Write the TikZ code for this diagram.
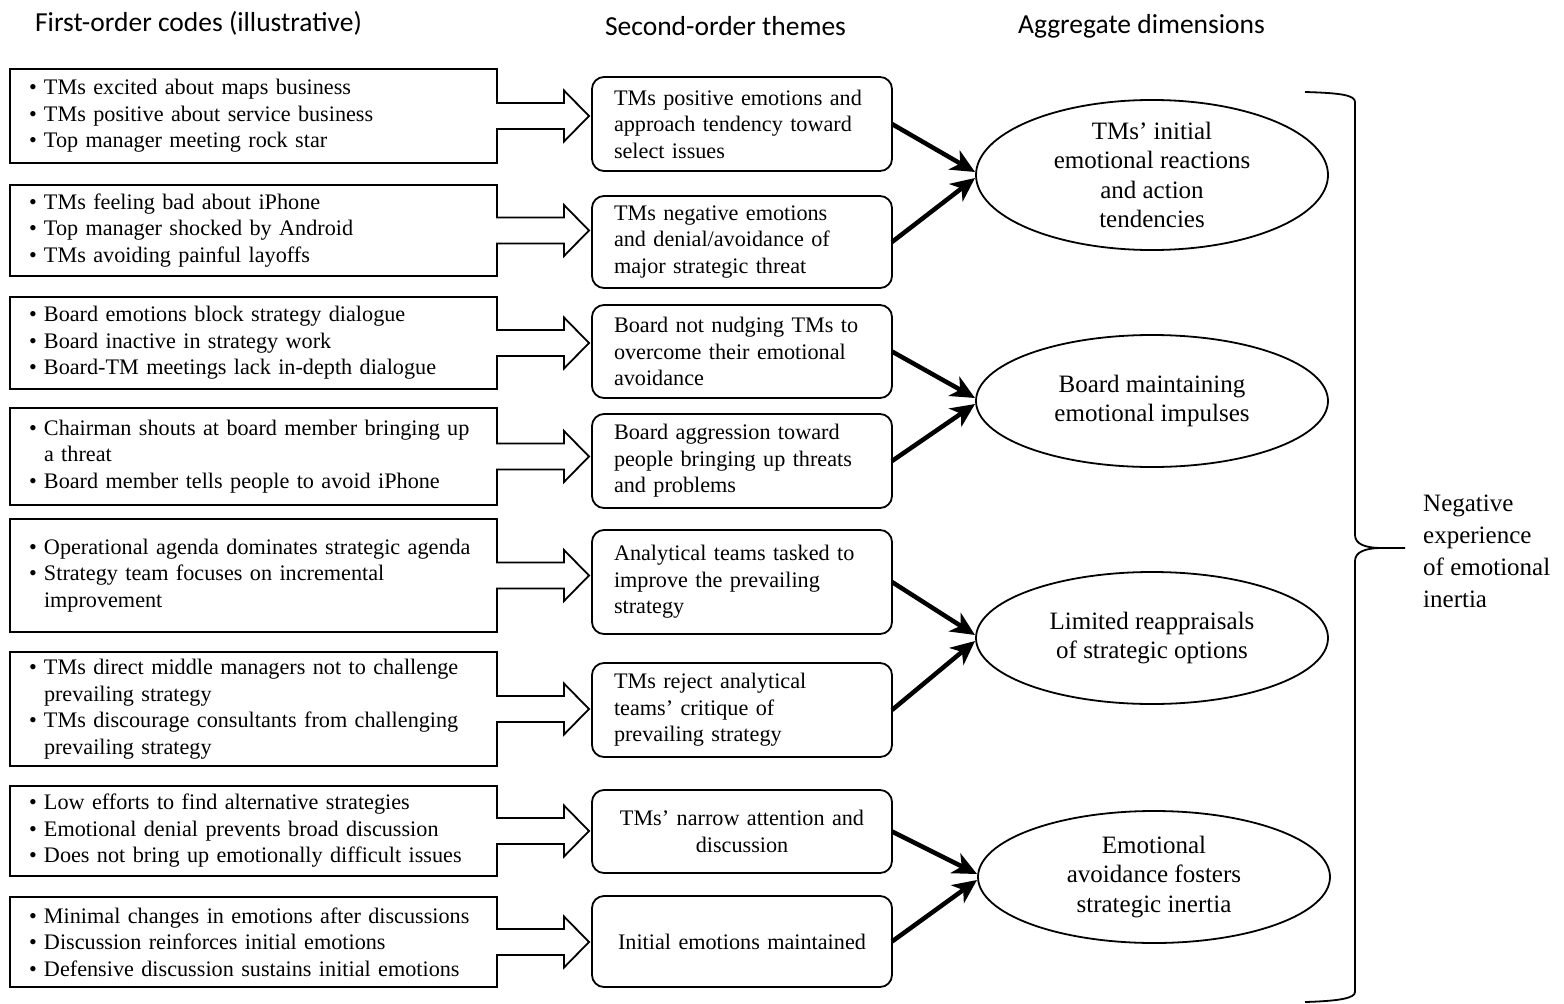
\documentclass[tikz,border=0pt]{standalone}
\usepackage{fontspec}
\setmainfont{Liberation Serif}
\newfontfamily\hdrfont{Carlito}
\usetikzlibrary{calc,shapes.geometric,arrows.meta}
\newcommand\bl[1]{\mbox{\makebox[15pt][l]{\textbullet}#1}}
\newcommand\cl[1]{\mbox{\hspace*{15pt}#1}}
\begin{document}
\begin{tikzpicture}[x=1pt,y=-1pt,
  txt/.style={font=\fontsize{22.2}{26.5}\selectfont},
  codebox/.style={txt,draw,line width=1.8pt,inner sep=0pt,outer sep=0pt,minimum width=487pt,text width=449pt,align=left},
  themebox/.style={txt,draw,line width=1.8pt,rounded corners=12pt,inner sep=0pt,outer sep=0pt,minimum width=300pt,text width=256pt,align=left},
  dimell/.style={ellipse,draw,line width=1.8pt,inner sep=0pt,outer sep=0pt,minimum width=352pt,minimum height=132pt,align=center,font=\fontsize{25}{29.5}\selectfont},
  hdr/.style={font=\hdrfont\fontsize{27.5}{30}\selectfont,inner sep=0pt},
  blockarrow/.style={draw,fill=white,line width=1.8pt,line join=miter},
  thickarr/.style={line width=4.5pt,-{Stealth[length=24pt,width=22pt,inset=7pt]}},
  brace/.style={line width=1.8pt}
]
\useasboundingbox (0,0) rectangle (1564,1004);
% headers
\node[hdr] (h1) at (198.5,23) {First-order codes (illustrative)};
\node[hdr] (h2) at (725.5,26) {Second-order themes};
\node[hdr] (h3) at (1141.5,26) {Aggregate dimensions};
% first-order code boxes
\node[codebox,minimum height=94pt] (c1) at (253.5,116) {\bl{TMs excited about maps business}\\\bl{TMs positive about service business}\\\bl{Top manager meeting rock star}};
\node[codebox,minimum height=91pt] (c2) at (253.5,230.5) {\bl{TMs feeling bad about iPhone}\\\bl{Top manager shocked by Android}\\\bl{TMs avoiding painful layoffs}};
\node[codebox,minimum height=92pt] (c3) at (253.5,343) {\bl{Board emotions block strategy dialogue}\\\bl{Board inactive in strategy work}\\\bl{Board-TM meetings lack in-depth dialogue}};
\node[codebox,minimum height=97pt] (c4) at (253.5,456.5) {\bl{Chairman shouts at board member bringing up}\\\cl{a threat}\\\bl{Board member tells people to avoid iPhone}};
\node[codebox,minimum height=113pt] (c5) at (253.5,575.5) {\bl{Operational agenda dominates strategic agenda}\\\bl{Strategy team focuses on incremental}\\\cl{improvement}};
\node[codebox,minimum height=114pt] (c6) at (253.5,709) {\bl{TMs direct middle managers not to challenge}\\\cl{prevailing strategy}\\\bl{TMs discourage consultants from challenging}\\\cl{prevailing strategy}};
\node[codebox,minimum height=90pt] (c7) at (253.5,831) {\bl{Low efforts to find alternative strategies}\\\bl{Emotional denial prevents broad discussion}\\\bl{Does not bring up emotionally difficult issues}};
\node[codebox,minimum height=90pt] (c8) at (253.5,942) {\bl{Minimal changes in emotions after discussions}\\\bl{Discussion reinforces initial emotions}\\\bl{Defensive discussion sustains initial emotions}};
% second-order themes
\node[themebox,minimum height=94pt] (t1) at (742,124) {TMs positive emotions and\\approach tendency toward\\select issues};
\node[themebox,minimum height=92pt] (t2) at (742,242) {TMs negative emotions\\and denial/avoidance of\\major strategic threat};
\node[themebox,minimum height=93pt] (t3) at (742,351.5) {Board not nudging TMs to\\overcome their emotional\\avoidance};
\node[themebox,minimum height=94pt] (t4) at (742,461) {Board aggression toward\\people bringing up threats\\and problems};
\node[themebox,minimum height=104pt] (t5) at (742,582) {Analytical teams tasked to\\improve the prevailing\\strategy};
\node[themebox,minimum height=94pt] (t6) at (742,710) {TMs reject analytical\\teams’ critique of\\prevailing strategy};
\node[themebox,minimum height=83pt,align=center] (t7) at (742,831.5) {TMs’ narrow attention and\\discussion};
\node[themebox,minimum height=91pt,align=center] (t8) at (742,941.5) {Initial emotions maintained};
% aggregate dimensions
\node[dimell] (e1) at (1152,175) {TMs’ initial\\emotional reactions\\and action\\tendencies};
\node[dimell] (e2) at (1152,401) {Board maintaining\\emotional impulses};
\node[dimell] (e3) at (1152,638) {Limited reappraisals\\of strategic options};
\node[dimell] (e4) at (1154,877) {Emotional\\avoidance fosters\\strategic inertia};
% block arrows
\foreach \i in {1,...,8}{
  \path[blockarrow] ($(c\i.east)+(-1,-13)$) -- ++(68,0) -- ++(0,-12.5)
    -- ($(t\i.west|-c\i.east)+(-3,0)$) -- ($(c\i.east)+(67,25.5)$) -- ++(0,-12.5)
    -- ($(c\i.east)+(-1,13)$);
}
% thick arrows
\draw[thickarr] (t1.east) -- ($(e1.west)+(-1,-3)$);
\draw[thickarr] (t2.east) -- ($(e1.west)+(-1,3)$);
\draw[thickarr] (t3.east) -- ($(e2.west)+(-1,-3)$);
\draw[thickarr] (t4.east) -- ($(e2.west)+(-1,3)$);
\draw[thickarr] (t5.east) -- ($(e3.west)+(-1,-3)$);
\draw[thickarr] (t6.east) -- ($(e3.west)+(-1,3)$);
\draw[thickarr] (t7.east) -- ($(e4.west)+(-1,-3)$);
\draw[thickarr] (t8.east) -- ($(e4.west)+(-1,3)$);
% brace
\draw[brace] (1305,92) .. controls (1340,93) and (1355,95) .. (1355,102)
  -- (1355,535) .. controls (1355,544) and (1365,548) .. (1382,548) -- (1405,548);
\draw[brace] (1382,548) .. controls (1365,548) and (1355,552) .. (1355,561)
  -- (1355,992) .. controls (1355,998) and (1340,1001) .. (1305,1002);
\node[font=\fontsize{25}{32}\selectfont,align=left,anchor=west,inner sep=0pt] (neg) at (1423,551) {Negative\\experience\\of emotional\\inertia};
\end{tikzpicture}
\end{document}
